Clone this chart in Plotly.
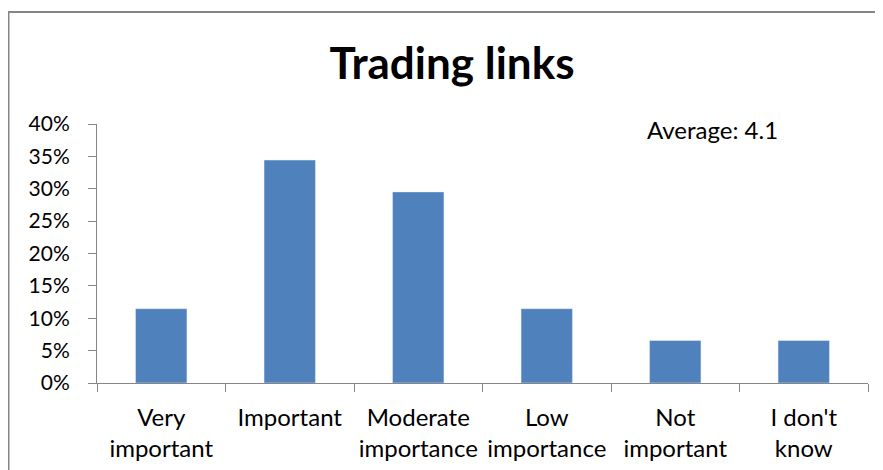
import plotly.graph_objects as go

categories = ["Very<br>important", "Important", "Moderate<br>importance",
              "Low<br>importance", "Not<br>important", "I don't<br>know"]
shares = [0.1148, 0.3443, 0.2951, 0.1148, 0.0656, 0.0656]
y_ticks = [0, 0.05, 0.10, 0.15, 0.20, 0.25, 0.30, 0.35, 0.40]
y_tick_labels = ["0%", "5%", "10%", "15%", "20%", "25%", "30%", "35%", "40%"]
title_text = "Trading links"
note_text = "Average: 4.1"

OFF = 8  # page body margin
W, H = 883 - OFF, 470 - OFF
# plot area in reference (window) pixels: x 97..868, y 124..383
L = 97 - OFF
R = W - (868 - OFF)
T = 124 - OFF
B = H - (383 - OFF)
pw, ph = W - L - R, H - T - B

def px_x(x):
    return (x - OFF - L) / pw

def px_y(y):
    return (H - B - (y - OFF)) / ph

fig = go.Figure(go.Bar(
    x=categories, y=shares, marker_color="#4F81BD", width=0.4,
))

fig.update_layout(
    width=W, height=H,
    margin=dict(l=L, r=R, t=T, b=B, autoexpand=False),
    plot_bgcolor="white", paper_bgcolor="white",
    font=dict(family="Lato", color="black"),
    showlegend=False,
    bargap=0.6,
    title=dict(text="<b>" + title_text + "</b>", x=(452 - OFF) / W, xanchor="center",
               y=1 - (64 - OFF) / H, yanchor="middle", font=dict(size=44, family="Lato")),
    xaxis=dict(
        showgrid=False, showline=True, linecolor="#868686", linewidth=1,
        ticks="outside", ticklen=8, tickcolor="#868686", tickson="boundaries",
        tickfont=dict(size=24), ticklabelstandoff=13,
    ),
    yaxis=dict(
        range=[0, 0.40], tickvals=y_ticks, ticktext=y_tick_labels,
        showgrid=False, showline=True, linecolor="#868686", linewidth=1,
        ticks="outside", ticklen=8, tickcolor="#868686",
        tickfont=dict(size=21), zeroline=False, ticklabelstandoff=14,
    ),
    annotations=[dict(
        text=note_text, xref="paper", yref="paper",
        x=px_x(645), y=px_y(130), xanchor="left", yanchor="middle",
        showarrow=False, font=dict(size=24, family="Lato"),
    )],
    shapes=[dict(
        type="rect", xref="paper", yref="paper",
        x0=px_x(8.5), x1=px_x(950), y0=px_y(520), y1=px_y(12),
        line=dict(color="#868686", width=2), fillcolor="rgba(0,0,0,0)", layer="below",
    )],
)

fig.write_html("out.html")
